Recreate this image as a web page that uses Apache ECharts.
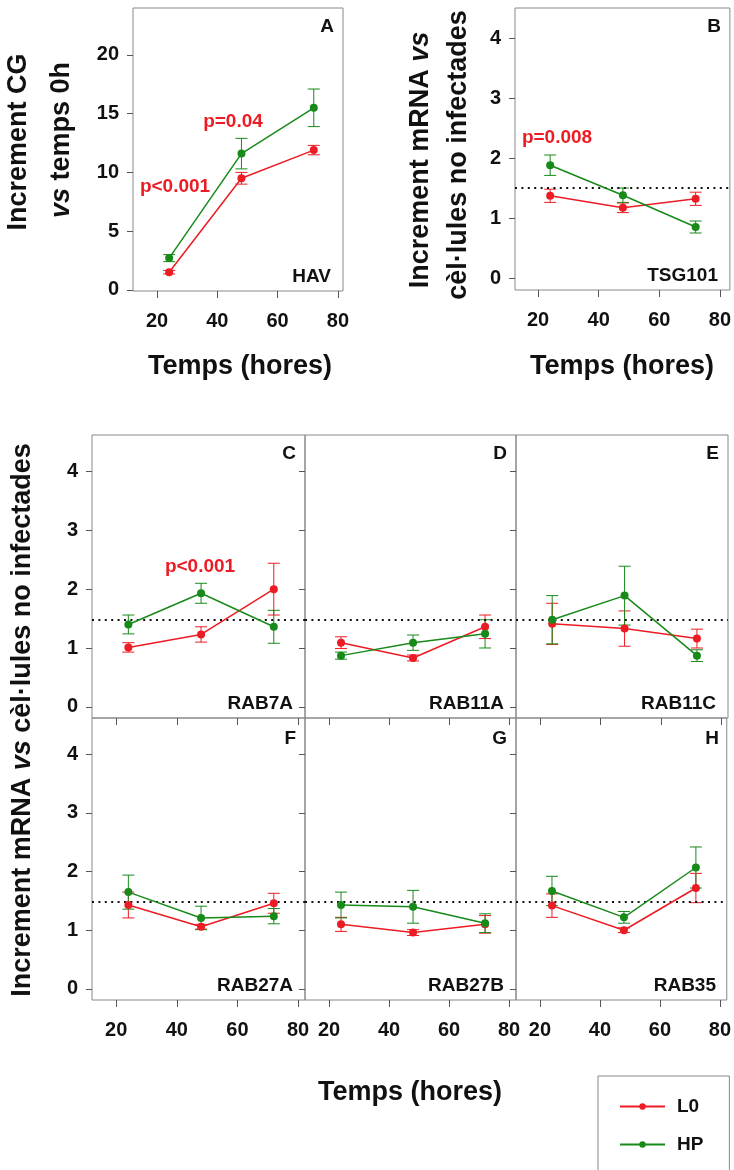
<!DOCTYPE html>
<html>
<head>
<meta charset="utf-8">
<script src="https://cdn.jsdelivr.net/npm/echarts@6/dist/echarts.min.js"></script>
<style>
  html, body { margin: 0; padding: 0; background: #fff; }
  #chart { width: 734px; height: 1170px; }
</style>
</head>
<body>
<div id="chart"></div>
<script>
// temps (hores)
var hours = [24, 48, 72];
var xTicks = [20, 40, 60, 80];
var yTicksCG = [0, 5, 10, 15, 20];
var yTicksMRNA = [0, 1, 2, 3, 4];

var panelLetters = ['A', 'B', 'C', 'D', 'E', 'F', 'G', 'H'];
var geneNames = ['HAV', 'TSG101', 'RAB7A', 'RAB11A', 'RAB11C', 'RAB27A', 'RAB27B', 'RAB35'];

// L0 mitjana i error
var l0Mean = [
  [1.5, 9.5, 11.9],
  [1.37, 1.17, 1.32],
  [1.01, 1.23, 2.0],
  [1.09, 0.83, 1.36],
  [1.41, 1.33, 1.16],
  [1.43, 1.06, 1.46],
  [1.1, 0.96, 1.1],
  [1.42, 1.0, 1.72]
];
var l0Err = [
  [0.15, 0.5, 0.4],
  [0.11, 0.08, 0.11],
  [0.08, 0.13, 0.44],
  [0.1, 0.05, 0.2],
  [0.35, 0.3, 0.16],
  [0.22, 0.04, 0.17],
  [0.12, 0.05, 0.15],
  [0.2, 0.04, 0.25]
];
// HP mitjana i error
var hpMean = [
  [2.7, 11.6, 15.5],
  [1.88, 1.38, 0.85],
  [1.4, 1.93, 1.36],
  [0.87, 1.09, 1.24],
  [1.48, 1.89, 0.87],
  [1.65, 1.21, 1.24],
  [1.43, 1.4, 1.12],
  [1.67, 1.22, 2.07]
];
var hpErr = [
  [0.3, 1.3, 1.6],
  [0.17, 0.12, 0.1],
  [0.16, 0.17, 0.28],
  [0.06, 0.13, 0.24],
  [0.41, 0.5, 0.1],
  [0.29, 0.2, 0.13],
  [0.22, 0.28, 0.16],
  [0.25, 0.1, 0.35]
];
// linia de referencia (puntejada)
var refLevel = [null, 1.5, 1.48, 1.48, 1.48, 1.48, 1.48, 1.48];

var pValues = ['p=0.04', 'p<0.001', 'p=0.008', 'p<0.001'];

var RED = '#ec1c24';
var GREEN = '#178a1a';
var FONT = '"Liberation Sans", Arial, sans-serif';

// layout
var grids = [
  {left: 133, top: 8, width: 210, height: 283},
  {left: 515, top: 8, width: 215, height: 282},
  {left: 92, top: 435, width: 213, height: 283},
  {left: 305, top: 435, width: 211, height: 283},
  {left: 516, top: 435, width: 212, height: 283},
  {left: 92, top: 718, width: 213, height: 282},
  {left: 305, top: 718, width: 211, height: 282},
  {left: 516, top: 718, width: 212, height: 282}
];
var xRange = [[12, 81.7], [12.4, 83.3], [12, 82.3], [12, 82.3], [12, 82.3], [12, 82.3], [12, 82.3], [12, 82.3]];
var yRange = [[-0.1, 24], [-0.2, 4.5], [-0.19, 4.62], [-0.19, 4.62], [-0.19, 4.62], [-0.19, 4.62], [-0.19, 4.62], [-0.19, 4.62]];
var showXLabel = [true, true, false, false, false, true, true, true];
var showYLabel = [true, true, true, false, false, true, false, false];

function errRender(color) {
  return function (params, api) {
    var x = api.value(0);
    var top = api.coord([x, api.value(2)]);
    var bot = api.coord([x, api.value(1)]);
    var w = 6;
    var st = {stroke: color, lineWidth: 1};
    return {
      type: 'group',
      children: [
        {type: 'line', shape: {x1: top[0], y1: top[1], x2: bot[0], y2: bot[1]}, style: st},
        {type: 'line', shape: {x1: top[0] - w, y1: top[1], x2: top[0] + w, y2: top[1]}, style: st},
        {type: 'line', shape: {x1: bot[0] - w, y1: bot[1], x2: bot[0] + w, y2: bot[1]}, style: st}
      ]
    };
  };
}

var labelStyle = {fontSize: 20, fontWeight: 'bold', fontFamily: FONT, color: '#111'};
var xAxes = [], yAxes = [], series = [];

grids.forEach(function (g, i) {
  xAxes.push({
    gridIndex: i, type: 'value', min: xRange[i][0], max: xRange[i][1],
    axisLine: {show: false, onZero: false}, splitLine: {show: false},
    axisTick: {show: true, customValues: xTicks, length: 7, lineStyle: {color: '#555'}},
    axisLabel: Object.assign({show: showXLabel[i], customValues: xTicks, margin: 20}, labelStyle)
  });
  yAxes.push({
    gridIndex: i, type: 'value', min: yRange[i][0], max: yRange[i][1],
    axisLine: {show: false, onZero: false}, splitLine: {show: false},
    axisTick: {show: true, customValues: i === 0 ? yTicksCG : yTicksMRNA, length: 6, lineStyle: {color: '#555'}},
    axisLabel: Object.assign({show: showYLabel[i], customValues: i === 0 ? yTicksCG : yTicksMRNA, margin: 14}, labelStyle)
  });

  [[l0Mean, l0Err, RED, 'L0'], [hpMean, hpErr, GREEN, 'HP']].forEach(function (s) {
    var mean = s[0][i], err = s[1][i];
    series.push({
      type: 'custom', name: s[3] + ' err', xAxisIndex: i, yAxisIndex: i,
      renderItem: errRender(s[2]), silent: true, z: 1,
      encode: {x: 0, y: [1, 2]},
      data: hours.map(function (h, k) { return [h, mean[k] - err[k], mean[k] + err[k]]; })
    });
  });

  [[l0Mean, RED, 'L0'], [hpMean, GREEN, 'HP']].forEach(function (s, j) {
    var ser = {
      type: 'line', name: s[2], xAxisIndex: i, yAxisIndex: i, z: 3,
      symbol: 'circle', symbolSize: 8,
      lineStyle: {color: s[1], width: 1.5},
      itemStyle: {color: s[1]},
      data: hours.map(function (h, k) { return [h, s[0][i][k]]; })
    };
    if (j === 1 && refLevel[i] !== null) {
      ser.markLine = {
        silent: true, symbol: 'none', label: {show: false}, z: 2,
        lineStyle: {type: [2, 4.4], color: '#111', width: 2},
        data: [{yAxis: refLevel[i]}]
      };
    }
    series.push(ser);
  });
});

// textos
var graphic = [];
function txt(x, y, text, opts) {
  return {
    type: 'text', x: x, y: y, silent: true,
    style: Object.assign({
      text: text, fontFamily: FONT, fontWeight: 'bold', fontSize: 19, fill: '#111',
      align: 'center', verticalAlign: 'middle'
    }, opts || {})
  };
}
grids.forEach(function (g, i) {
  var right = g.left + g.width;
  var bottom = g.top + g.height;
  var dy = (i >= 5) ? 21 : 19;
  graphic.push(txt(right - 9, g.top + dy, panelLetters[i], {align: 'right'}));
  graphic.push(txt(right - 12, bottom - 14, geneNames[i], {align: 'right'}));
});
// p-valors
graphic.push(txt(233, 122, pValues[0], {fill: RED}));
graphic.push(txt(175, 187, pValues[1], {fill: RED}));
graphic.push(txt(557, 138, pValues[2], {fill: RED}));
graphic.push(txt(200, 567, pValues[3], {fill: RED}));

// titols dels eixos
function richTitle(x, y, a, b, c) {
  var base = {fontFamily: FONT, fontWeight: 'bold', fontSize: 27, fill: '#111'};
  var t = '';
  if (a) t += '{n|' + a + '}';
  if (b) t += '{i|' + b + '}';
  if (c) t += '{n|' + c + '}';
  return {
    type: 'text', x: x, y: y, rotation: Math.PI / 2, silent: true,
    style: {
      text: t, align: 'center', verticalAlign: 'middle',
      fontFamily: FONT, fontWeight: 'bold', fontSize: 27, fill: '#111',
      rich: {
        n: Object.assign({}, base),
        i: Object.assign({fontStyle: 'italic'}, base)
      }
    }
  };
}
graphic.push(richTitle(19, 142, 'Increment CG'));
graphic.push(richTitle(62, 140, null, 'vs', ' temps 0h'));
graphic.push(richTitle(421, 160, 'Increment mRNA ', 'vs'));
graphic.push(richTitle(459, 155, 'cèl·lules no infectades'));
graphic.push(richTitle(23, 720, 'Increment mRNA ', 'vs', ' cèl·lules no infectades'));

graphic.push(txt(240, 367, 'Temps (hores)', {fontSize: 27}));
graphic.push(txt(622, 367, 'Temps (hores)', {fontSize: 27}));
graphic.push(txt(410, 1093, 'Temps (hores)', {fontSize: 27}));

var chart = echarts.init(document.getElementById('chart'));
chart.setOption({
  animation: false,
  backgroundColor: '#fff',
  grid: grids.map(function (g) {
    return Object.assign({show: true, borderColor: '#888', borderWidth: 1, backgroundColor: 'transparent'}, g);
  }),
  xAxis: xAxes,
  yAxis: yAxes,
  legend: {
    data: ['L0', 'HP'],
    orient: 'vertical',
    left: 598, top: 1076, height: 120,
    padding: [21, 26, 40, 21],
    itemGap: 19,
    itemWidth: 45, itemHeight: 8,
    borderColor: '#888', borderWidth: 1,
    textStyle: {fontSize: 19, fontWeight: 'bold', fontFamily: FONT, color: '#111', padding: [0, 0, 0, 7]}
  },
  graphic: graphic,
  series: series
});
</script>
</body>
</html>
